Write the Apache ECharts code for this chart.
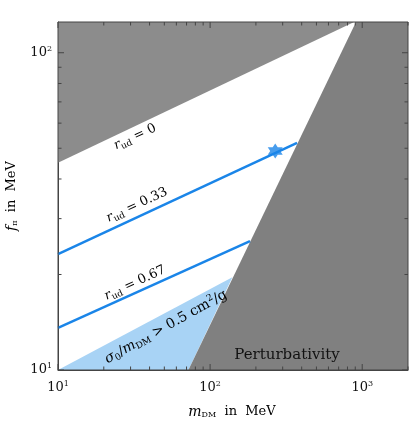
<!DOCTYPE html>
<html><head><meta charset="utf-8">
<script src="https://cdn.jsdelivr.net/npm/echarts@6/dist/echarts.min.js"></script>
<style>html,body{margin:0;padding:0;background:#fff}#c{width:413px;height:424px}</style>
</head><body><div id="c"></div>
<script>
const xRange = [10, 2000];
const yRange = [10, 125];
const upperGrey = [[10, 45], [885, 125], [10, 125]];
const perturbRegion = [[72, 10], [910, 125], [2000, 125], [2000, 10]];
const sigmaRegion = [[10, 10], [140, 19.6], [72, 10]];
const line033 = [[10, 23.2], [373, 52]];
const line067 = [[10, 13.57], [183, 25.5]];
const starPoint = [[268, 49]];
const xMajor = [10, 100, 1000];
const xMinor = [20,30,40,50,60,70,80,90,200,300,400,500,600,700,800,900,2000];
const yMajor = [10, 100];
const yMinor = [20,30,40,50,60,70,80,90];
const blue = '#1a85e8';
const serif = '"DejaVu Serif","Liberation Serif",serif';

function poly(pts, color) {
  return {
    type: 'custom', data: [0], silent: true, z: 1,
    renderItem: (p, api) => ({
      type: 'polygon',
      shape: { points: pts.map(q => api.coord(q)) },
      style: { fill: color }
    })
  };
}
function ticks() {
  return {
    type: 'custom', data: [0], silent: true, z: 10,
    renderItem: (p, api) => {
      const cs = p.coordSys, L = cs.x, T = cs.y, R = cs.x + cs.width, B = cs.y + cs.height;
      const ch = [];
      const add = (x1,y1,x2,y2) => ch.push({type:'line',shape:{x1,y1,x2,y2},style:{stroke:'#444',lineWidth:1}});
      xMajor.forEach(v => { const x = api.coord([v, 10])[0]; add(x,B,x,B-6); add(x,T,x,T+6); });
      xMinor.forEach(v => { const x = api.coord([v, 10])[0]; add(x,B,x,B-3.5); add(x,T,x,T+3.5); });
      yMajor.forEach(v => { const y = api.coord([10, v])[1]; add(L,y,L+6,y); add(R,y,R-6,y); });
      yMinor.forEach(v => { const y = api.coord([10, v])[1]; add(L,y,L+3.5,y); add(R,y,R-3.5,y); });
      return { type: 'group', children: ch };
    }
  };
}
const pow = v => { const e = Math.round(Math.log10(v)); return Math.abs(Math.log10(v) - e) < 1e-6 ? '10{s|' + e + '}' : ''; };
const axisLab = { fontFamily: serif, fontSize: 13, color: '#111', formatter: pow, rich: { s: { fontSize: 8, padding: [0,0,8,0], fontFamily: serif, color:'#111' } } };

const chart = echarts.init(document.getElementById('c'));
const rRich = { i: { fontStyle: 'italic', fontSize: 13, color: blue, fontFamily: serif }, s: { fontSize: 9, color: blue, padding: [7,0,0,0], fontFamily: serif }, t: { fontSize: 13, color: blue, fontFamily: serif } };
chart.setOption({
  animation: false,
  grid: { left: 58, right: 5, top: 22, bottom: 54 },
  xAxis: { type: 'log', min: xRange[0], max: xRange[1], logBase: 10, splitLine: { show: false },
    axisTick: { show: false }, axisLine: { lineStyle: { color: '#444' } }, axisLabel: Object.assign({ margin: 10, showMaxLabel: false }, axisLab) },
  yAxis: { type: 'log', min: yRange[0], max: yRange[1], logBase: 10, splitLine: { show: false },
    axisTick: { show: false }, axisLine: { show: true, lineStyle: { color: '#444' } }, axisLabel: Object.assign({ margin: 6, showMaxLabel: false }, axisLab) },
  series: [
    poly(upperGrey, '#8c8c8c'),
    poly(sigmaRegion, '#a8d3f5'),
    poly(perturbRegion, '#808080'),
    { type: 'line', data: line033, symbol: 'none', lineStyle: { color: blue, width: 2.5 }, z: 3 },
    { type: 'line', data: line067, symbol: 'none', lineStyle: { color: blue, width: 2.5 }, z: 3 },
    { type: 'scatter', data: starPoint, symbol: 'path://M0,-10L2.9,-5L8.66,-5L5.8,0L8.66,5L2.9,5L0,10L-2.9,5L-8.66,5L-5.8,0L-8.66,-5L-2.9,-5Z', symbolSize: 15, itemStyle: { color: blue }, z: 4 },
    ticks()
  ],
  graphic: [
    { type: 'rect', shape: { x: 58, y: 22, width: 350, height: 348 }, style: { fill: 'none', stroke: '#444', lineWidth: 1 }, z: 100, silent: true },
    { type: 'text', x: 135, y: 137, rotation: 25 * Math.PI / 180, z: 50, style: { text: '{i|r}{s|ud}{t| = 0}', rich: rRich, align: 'center', verticalAlign: 'middle' } },
    { type: 'text', x: 137, y: 205, rotation: 25 * Math.PI / 180, z: 50, style: { text: '{i|r}{s|ud}{t| = 0.33}', rich: rRich, align: 'center', verticalAlign: 'middle' } },
    { type: 'text', x: 135, y: 283, rotation: 25 * Math.PI / 180, z: 50, style: { text: '{i|r}{s|ud}{t| = 0.67}', rich: rRich, align: 'center', verticalAlign: 'middle' } },
    { type: 'text', x: 166, y: 327, rotation: 29 * Math.PI / 180, z: 50, style: { text: '{i|σ}{s|0}{t|/}{i|m}{s|DM}{t| > 0.5 cm}{p|2}{t|/g}', align: 'center', verticalAlign: 'middle',
      rich: { i: { fontStyle: 'italic', fontSize: 14, color: '#555', fontFamily: serif }, s: { fontSize: 9, color: '#555', padding: [7,0,0,0], fontFamily: serif }, t: { fontSize: 14, color: '#555', fontFamily: serif }, p: { fontSize: 9, color: '#555', padding: [0,0,8,0], fontFamily: serif } } } },
    { type: 'text', x: 287, y: 355, z: 50, style: { text: 'Perturbativity', font: '15px ' + serif, fill: '#111', align: 'center', verticalAlign: 'middle' } },
    { type: 'text', x: 232, y: 412, z: 50, style: { text: '{i|m}{s|DM}{t|  in  MeV}', align: 'center', verticalAlign: 'middle',
      rich: { i: { fontStyle: 'italic', fontSize: 14, color: '#111', fontFamily: serif }, s: { fontSize: 8, color: '#111', padding: [6,0,0,0], fontFamily: serif }, t: { fontSize: 13, color: '#111', fontFamily: serif } } } },
    { type: 'text', x: 12, y: 196, rotation: Math.PI / 2, z: 50, style: { text: '{i|f}{s|π}{t|  in  MeV}', align: 'center', verticalAlign: 'middle',
      rich: { i: { fontStyle: 'italic', fontSize: 14, color: '#111', fontFamily: serif }, s: { fontSize: 8, color: '#111', padding: [6,0,0,0], fontFamily: serif }, t: { fontSize: 13, color: '#111', fontFamily: serif } } } }
  ]
});
</script></body></html>
